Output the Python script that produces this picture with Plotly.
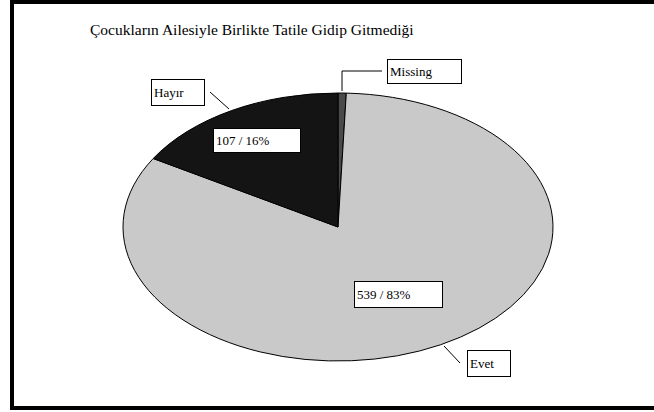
import plotly.graph_objects as go

# ---- data ----
title_text = "Çocukların Ailesiyle Birlikte Tatile Gidip Gitmediği"
categories = ["Missing", "Evet", "Hayır"]
counts = [4, 539, 107]
slice_colors = ["#4a4a4a", "#c9c9c9", "#141414"]

W, H = 654, 412
CX, CY, R = 338, 227, 134        # pie centre / vertical radius in px
STRETCH = 215 / 134               # horizontal stretch -> elliptical pie

total = sum(counts)


def px(x, y):
    return x / W, 1 - y / H


dx0, dx1 = (CX - R) / W, (CX + R) / W
dy0, dy1 = (H - CY - R) / H, (H - CY + R) / H

fig = go.Figure(go.Pie(
    labels=categories,
    values=counts,
    sort=False,
    direction="clockwise",
    rotation=0,
    textinfo="none",
    hoverinfo="label+value+percent",
    showlegend=False,
    marker=dict(colors=slice_colors, line=dict(color="#000000", width=1)),
    domain=dict(x=[dx0, dx1], y=[dy0, dy1]),
))

FONT = "Liberation Serif, Times New Roman, serif"
annotations = []
shapes = []

# title
tx, ty = px(88, 30)
annotations.append(dict(text=title_text, x=tx, y=ty, xref="paper", yref="paper",
                        xanchor="left", yanchor="middle", showarrow=False,
                        font=dict(family=FONT, size=15.5, color="#000")))


def box(text, x0, y0, x1, y1, pad=7):
    cx, cy = px((x0 + x1) / 2, (y0 + y1) / 2)
    annotations.append(dict(text=text, x=cx, y=cy, xref="paper", yref="paper",
                            xanchor="center", yanchor="middle", showarrow=False,
                            align="left", width=(x1 - x0) - 2 * pad - 1,
                            height=(y1 - y0) - 2 * 2 - 1, borderpad=2,
                            bgcolor="#ffffff", bordercolor="#000000", borderwidth=1,
                            font=dict(family=FONT, size=13, color="#000")))


# category label boxes
box(categories[0], 382, 59, 466, 83)
box(categories[2], 147, 79, 210, 105)
box(categories[1], 462, 350, 515, 376)

# value / percent label boxes
def vlabel(i):
    return f"{counts[i]} / {round(counts[i] / total * 100)}%"

box(vlabel(2), 208, 128, 305, 152)
box(vlabel(1), 349, 281, 447, 307)


def seg(p, q):
    (x0, y0), (x1, y1) = px(*p), px(*q)
    shapes.append(dict(type="line", xref="paper", yref="paper",
                       x0=x0, y0=y0, x1=x1, y1=y1,
                       line=dict(color="#000", width=1)))


# leader lines
seg((342, 91), (342, 71))
seg((342, 71), (382, 71))
seg((210, 92), (229, 109))
seg((444, 346), (460, 363))

# outer frame (right side runs off the page)
fx0, fy0 = px(12, 2)
fx1, fy1 = px(700, 408)
shapes.append(dict(type="rect", xref="paper", yref="paper",
                   x0=fx0, y0=fy1, x1=fx1, y1=fy0,
                   line=dict(color="#000", width=4), fillcolor="rgba(0,0,0,0)"))

fig.update_layout(
    width=W, height=H,
    margin=dict(l=0, r=0, t=0, b=0),
    paper_bgcolor="#ffffff",
    plot_bgcolor="#ffffff",
    font=dict(family=FONT),
    annotations=annotations,
    shapes=shapes,
)

post = """
document.body.style.margin = '0';
document.body.style.padding = '0';
document.body.style.overflow = 'hidden';
var gd = document.getElementById('{plot_id}');
function stretchPie(){
  var layer = gd.querySelector('.pielayer');
  if(!layer) return;
  layer.setAttribute('transform', 'translate(%d,%d) scale(%f,1) translate(%d,%d)');
  layer.querySelectorAll('path').forEach(function(p){ p.style.vectorEffect='non-scaling-stroke'; });
}
stretchPie();
if (gd.on) { gd.on('plotly_afterplot', stretchPie); }
""" % (CX, CY, STRETCH, -CX, -CY)

fig.write_html("out.html", post_script=post, config={"displayModeBar": False})
